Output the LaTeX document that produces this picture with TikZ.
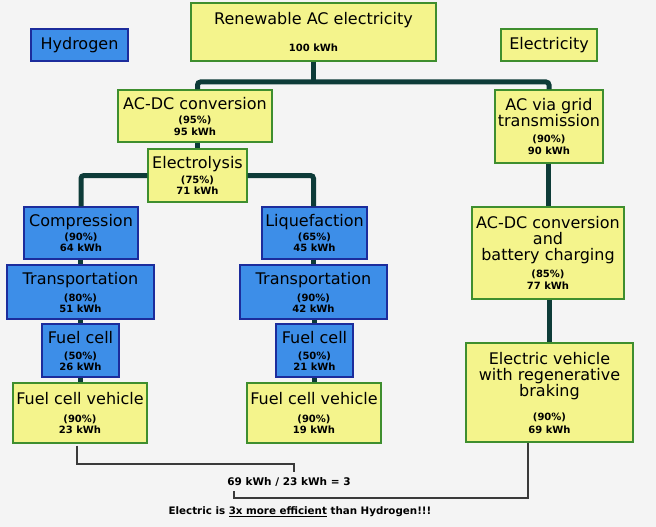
\documentclass[tikz,border=0pt]{standalone}
\usepackage{fontspec}
\setmainfont{DejaVu Sans}
\usetikzlibrary{positioning}

\definecolor{backcol}{HTML}{F4F4F4}
\definecolor{boxyellow}{HTML}{F4F48C}
\definecolor{boxgreen}{HTML}{3E8E2E}
\definecolor{boxblue}{HTML}{3D8EE8}
\definecolor{boxnavy}{HTML}{1C2C9C}
\definecolor{pipecol}{HTML}{0D3B38}
\definecolor{guidecol}{HTML}{3A3A3A}

\newcommand{\Val}[1]{{\fontsize{10}{10}\selectfont\bfseries #1}}
\newcommand{\LeftCol}{81}
\newcommand{\MidCol}{313.5}
\newcommand{\RightCol}{548.5}

\tikzset{
  yellowbox/.style={draw=boxgreen,fill=boxyellow,line width=1.3pt,inner sep=0pt,
    align=center,font=\fontsize{16}{16}\selectfont},
  bluebox/.style={draw=boxnavy,fill=boxblue,line width=1.3pt,inner sep=0pt,
    align=center,font=\fontsize{16}{16}\selectfont},
  pipe/.style={draw=pipecol,line width=5pt},
  guide/.style={draw=guidecol,line width=1.1pt}
}

\begin{document}
\begin{tikzpicture}[x=1pt,y=-1pt]
\fill[backcol] (0,0) rectangle (656,527);
\useasboundingbox (0,0) rectangle (656,527);

% Top row
\node[bluebox,minimum width=97,minimum height=32] (Hydrogen) at (79.5,45) {Hydrogen};
\node[yellowbox,minimum width=245,minimum height=58] (Source) at (\MidCol,32)
  {Renewable AC electricity\\[11pt]\Val{100 kWh}};
\node[yellowbox,minimum width=96,minimum height=32] (Electricity) at (549,45) {Electricity};

% Hydrogen side
\node[yellowbox,minimum width=154,minimum height=52] (ACDC) at (195,116)
  {AC-DC conversion\\[-2pt]\Val{(95\%)}\\[-4pt]\Val{95 kWh}};
\node[yellowbox,minimum width=99,minimum height=53] (Electrolysis) at (197.5,175.5)
  {Electrolysis\\[-1pt]\Val{(75\%)}\\[-5pt]\Val{71 kWh}};

\node[bluebox,minimum width=114,minimum height=52] (Compression) at (\LeftCol,233)
  {Compression\\[-2pt]\Val{(90\%)}\\[-5pt]\Val{64 kWh}};
\node[bluebox,minimum width=147,minimum height=54] (TransL) at (80.5,292)
  {Transportation\\[1pt]\Val{(80\%)}\\[-5pt]\Val{51 kWh}};
\node[bluebox,minimum width=77,minimum height=53] (CellL) at (80.5,350.5)
  {Fuel cell\\[0pt]\Val{(50\%)}\\[-5pt]\Val{26 kWh}};
\node[yellowbox,minimum width=134,minimum height=60] (CarL) at (80,413)
  {Fuel cell vehicle\\[2pt]\Val{(90\%)}\\[-5pt]\Val{23 kWh}};

\node[bluebox,minimum width=105,minimum height=52] (Liquefaction) at (314.5,233)
  {Liquefaction\\[-2pt]\Val{(65\%)}\\[-5pt]\Val{45 kWh}};
\node[bluebox,minimum width=147,minimum height=54] (TransR) at (\MidCol,292)
  {Transportation\\[1pt]\Val{(90\%)}\\[-5pt]\Val{42 kWh}};
\node[bluebox,minimum width=77,minimum height=53] (CellR) at (314.5,350.5)
  {Fuel cell\\[0pt]\Val{(50\%)}\\[-5pt]\Val{21 kWh}};
\node[yellowbox,minimum width=134,minimum height=60] (CarR) at (314,413)
  {Fuel cell vehicle\\[2pt]\Val{(90\%)}\\[-5pt]\Val{19 kWh}};

% Electricity side
\node[yellowbox,minimum width=108,minimum height=73] (Grid) at (549,126.5)
  {AC via grid\\transmission\\[0pt]\Val{(90\%)}\\[-4pt]\Val{90 kWh}};
\node[yellowbox,minimum width=152,minimum height=92] (Charging) at (548,253)
  {AC-DC conversion\\and\\battery charging\\[1pt]\Val{(85\%)}\\[-4pt]\Val{77 kWh}};
\node[yellowbox,minimum width=167,minimum height=99] (EV) at (549.5,392.5)
  {Electric vehicle\\with regenerative\\braking\\[8pt]\Val{(90\%)}\\[-3pt]\Val{69 kWh}};

% Pipes
\coordinate (Bus) at (\MidCol,82);
\draw[pipe] (Source.south) -- (Bus);
\draw[pipe,rounded corners=3pt] (ACDC.north -| Electrolysis) |- (Bus) -| (Grid.north);
\draw[pipe] (ACDC.south -| Electrolysis) -- (Electrolysis.north);
\draw[pipe,rounded corners=3pt] (Compression.north) |- (Electrolysis.west);
\draw[pipe,rounded corners=3pt] (Liquefaction.north -| Source) |- (Electrolysis.east);
\foreach \a/\b in {Compression/TransL, TransL/CellL, CellL/CarL,
                   Liquefaction/TransR, TransR/CellR, CellR/CarR,
                   Grid/Charging, Charging/EV}{
    \draw[pipe] (\a.south -| \b) -- (\b.north);
}

% Comparison
\node[font=\fontsize{10.5}{12}\selectfont\bfseries] (Ratio) at (289,482) {69 kWh / 23 kWh = 3};
\node[font=\fontsize{10.3}{11}\selectfont\bfseries] (Verdict) at (300,512)
  {Electric is \underline{3x more efficient} than Hydrogen!!!};
\coordinate (TopTick) at (294,472);
\coordinate (LowTick) at (234,491);
\draw[guide] (CarL.south -| 77,0) ++(0,2) |- (294,464) -- (TopTick);
\draw[guide] (LowTick) |- (528,498) -- (EV.south -| 528,0);
\end{tikzpicture}
\end{document}
